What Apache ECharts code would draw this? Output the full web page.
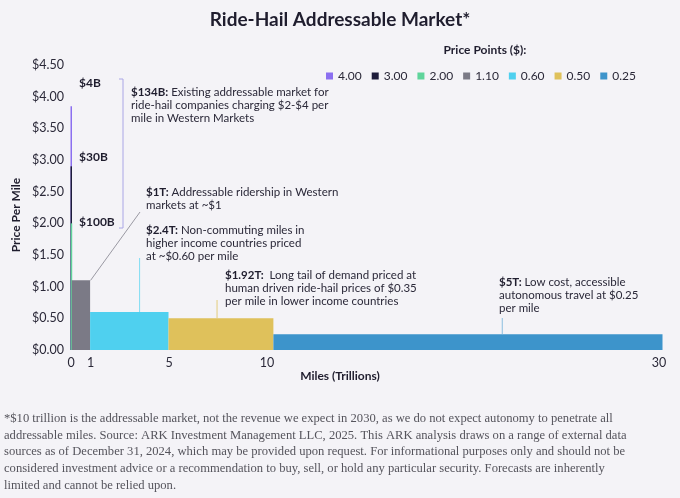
<!DOCTYPE html>
<html>
<head>
<meta charset="utf-8">
<script src="https://cdn.jsdelivr.net/npm/echarts@6/dist/echarts.min.js"></script>
<style>
html, body { margin: 0; padding: 0; background: #f4f3f7; }
#main { width: 680px; height: 498px; }
</style>
</head>
<body>
<div id="main"></div>
<script>
// price points (legend), bar extents in trillions of miles, bar heights in $/mile
var pricePoints = ['4.00', '3.00', '2.00', '1.10', '0.60', '0.50', '0.25'];
var milesStart = [0, 0.001, 0.011, 0.061, 1, 5, 10.35];
var milesEnd = [0.001, 0.011, 0.061, 1, 5, 10.35, 30.2];
var barPrice = [3.85, 2.9, 2.0, 1.1, 0.6, 0.5, 0.25];
var colors = ['#8b6ff0', '#1d1c3b', '#5fd49b', '#7b7a86', '#4fd0ef', '#dfc15b', '#3d94cb'];
var xTicks = [0, 1, 5, 10, 30];

var chart = echarts.init(document.getElementById('main'));
var font = 'Lato, "Noto Sans", sans-serif';

function renderBar(params, api) {
  var s = api.coord([api.value(0), api.value(2)]);
  var e = api.coord([api.value(1), 0]);
  return {
    type: 'rect',
    shape: { x: s[0] - 0.5, y: s[1], width: Math.max(e[0] - s[0], 1.5), height: e[1] - s[1] },
    style: { fill: api.visual('color') }
  };
}

var series = [];
for (var i = 0; i < pricePoints.length; i++) {
  series.push({
    name: pricePoints[i],
    type: 'custom',
    renderItem: renderBar,
    encode: { x: [0, 1], y: 2 },
    itemStyle: { color: colors[i] },
    z: 2 + i,
    data: [[milesStart[i], milesEnd[i], barPrice[i]]]
  });
}

chart.setOption({
  backgroundColor: '#f4f3f7',
  animation: false,
  textStyle: { fontFamily: font },
  color: colors,
  grid: { left: 71, right: 17, top: 65, bottom: 148 },
  legend: {
    data: pricePoints,
    left: 321, top: 65,
    icon: 'rect', itemWidth: 7, itemHeight: 7, itemGap: 10,
    textStyle: { fontSize: 12, color: '#2a2838', fontFamily: font }
  },
  xAxis: {
    type: 'value', min: 0, max: 30.2,
    axisLine: { show: false }, axisTick: { show: false }, splitLine: { show: false },
    axisLabel: { customValues: xTicks, fontSize: 12.5, color: '#2a2838', margin: 6 }
  },
  yAxis: {
    type: 'value', min: 0, max: 4.5, interval: 0.5,
    axisLine: { show: false }, axisTick: { show: false }, splitLine: { show: false },
    axisLabel: { fontSize: 12.5, color: '#2a2838', margin: 7,
      formatter: function (v) { return '$' + v.toFixed(2); } }
  },
  series: series
});

function px(x, y) { return chart.convertToPixel({ gridIndex: 0 }, [x, y]); }
function note(x, y, text) {
  return {
    type: 'text', left: x, top: y, z: 20,
    style: {
      text: text, font: '11.5px ' + font, fill: '#2a2838', lineHeight: 13,
      rich: { b: { fontWeight: 'bold', fontSize: 11.5, fontFamily: font, fill: '#1f1d2e', lineHeight: 13 } }
    }
  };
}
function bold(x, y, text) {
  return { type: 'text', left: x, top: y, z: 20,
    style: { text: text, font: 'bold 12px ' + font, fill: '#1f1d2e' } };
}
function leader(x1, y1, x2, y2, color) {
  return { type: 'line', z: 15, shape: { x1: x1, y1: y1, x2: x2, y2: y2 },
    style: { stroke: color, lineWidth: 1 } };
}

var greyTop = px(1, barPrice[3]);
var cyanTop = px(3.5, barPrice[4]);
var yellowTop = px(7.45, barPrice[5]);
var blueTop = px(22.0, barPrice[6]);

chart.setOption({
  graphic: [
    { type: 'text', x: 340, y: 20,
      style: { text: 'Ride-Hail Addressable Market*', font: 'bold 19px ' + font, fill: '#1f1d2e',
        textAlign: 'center', textVerticalAlign: 'middle' } },
    { type: 'text', x: 485, y: 50,
      style: { text: 'Price Points ($):', font: 'bold 12px ' + font, fill: '#1f1d2e',
        textAlign: 'center', textVerticalAlign: 'middle' } },
    { type: 'text', x: 16, y: 215, rotation: Math.PI / 2,
      style: { text: 'Price Per Mile', font: 'bold 12px ' + font, fill: '#1f1d2e',
        textAlign: 'center', textVerticalAlign: 'middle' } },
    { type: 'text', x: 340, y: 376,
      style: { text: 'Miles (Trillions)', font: 'bold 12px ' + font, fill: '#1f1d2e',
        textAlign: 'center', textVerticalAlign: 'middle' } },
    bold(79, 77, '$4B'),
    bold(79, 151, '$30B'),
    bold(79, 216, '$100B'),
    { type: 'polyline', z: 15, shape: { points: [[119, 79], [123, 79], [123, 228], [119, 228]] },
      style: { stroke: '#aaa6e6', lineWidth: 1, fill: null } },
    note(131, 86, '{b|$134B:} Existing addressable market for\nride-hail companies charging $2-$4 per\nmile in Western Markets'),
    note(146, 186, '{b|$1T:} Addressable ridership in Western\nmarkets at ~$1'),
    leader(greyTop[0], greyTop[1], 140, 212, '#9a99a3'),
    note(146, 224, '{b|$2.4T:} Non-commuting miles in\nhigher income countries priced\nat ~$0.60 per mile'),
    leader(cyanTop[0], cyanTop[1], cyanTop[0], 258, '#7fdcf2'),
    note(225, 269, '{b|$1.92T:}  Long tail of demand priced at\nhuman driven ride-hail prices of $0.35\nper mile in lower income countries'),
    leader(yellowTop[0], yellowTop[1], yellowTop[0], 300, '#e3cc7d'),
    note(499, 276, '{b|$5T:} Low cost, accessible\nautonomous travel at $0.25\nper mile'),
    leader(blueTop[0], blueTop[1], blueTop[0], 318, '#8bbfe0'),
    { type: 'text', left: 4, top: 410,
      style: {
        text: '*$10 trillion is the addressable market, not the revenue we expect in 2030, as we do not expect autonomy to penetrate all\n' +
          'addressable miles. Source: ARK Investment Management LLC, 2025. This ARK analysis draws on a range of external data\n' +
          'sources as of December 31, 2024, which may be provided upon request. For informational purposes only and should not be\n' +
          'considered investment advice or a recommendation to buy, sell, or hold any particular security. Forecasts are inherently\n' +
          'limited and cannot be relied upon.',
        font: '12.6px "Liberation Serif", serif', fill: '#55545c', lineHeight: 16.8
      } }
  ]
});
</script>
</body>
</html>
